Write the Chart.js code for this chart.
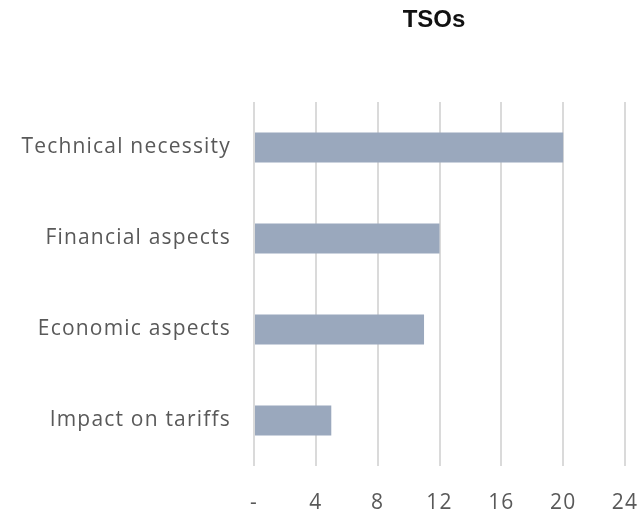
<!DOCTYPE html>
<html>
<head>
<meta charset="utf-8">
<script src="https://cdn.jsdelivr.net/npm/chart.js@4.4.1/dist/chart.umd.min.js"></script>
<style>
  html, body { margin: 0; padding: 0; background: #ffffff; }
  #wrap { width: 643px; height: 512px; position: relative; }
</style>
</head>
<body>
<div id="wrap"><canvas id="chart" width="643" height="512"></canvas></div>
<script>
// Reasons given by TSOs
const chartTitle = 'TSOs';
const categories = ['Technical necessity', 'Financial aspects', 'Economic aspects', 'Impact on tariffs'];
const counts = [20, 12, 11, 5];
const tickValues = [0, 4, 8, 12, 16, 20, 24];
const tickLabels = ['-', '4', '8', '12', '16', '20', '24'];

const labelFont = { family: "'Open Sans', 'DejaVu Sans', sans-serif", size: 21 };
const textColor = '#595959';
const gridColor = '#dadada';

// Slightly wider letter spacing for axis labels (set each draw, since resizing resets the context)
const spacingPlugin = {
  id: 'labelSpacing',
  beforeDraw(chart) { chart.ctx.letterSpacing = '1.2px'; }
};

// Title drawn above the plotting area
const titlePlugin = {
  id: 'plotTitle',
  afterDraw(chart) {
    const { ctx } = chart;
    ctx.save();
    ctx.letterSpacing = '0px';
    ctx.font = "bold 24px 'Liberation Sans', Arial, sans-serif";
    ctx.fillStyle = '#111111';
    ctx.textAlign = 'center';
    ctx.textBaseline = 'middle';
    ctx.fillText(chartTitle, 434, 20);
    ctx.restore();
  }
};

new Chart(document.getElementById('chart'), {
  type: 'bar',
  data: {
    labels: categories,
    datasets: [{
      data: counts,
      backgroundColor: '#9aa8bd',
      borderWidth: 0,
      barPercentage: 0.66,
      categoryPercentage: 0.5
    }]
  },
  options: {
    indexAxis: 'y',
    responsive: false,
    animation: false,
    layout: { padding: { top: 102, right: 18, bottom: 0, left: 0 } },
    plugins: {
      legend: { display: false },
      tooltip: { enabled: false },
      title: { display: false }
    },
    scales: {
      x: {
        min: 0,
        max: 24,
        afterBuildTicks(axis) {
          axis.ticks = tickValues.map(v => ({ value: v }));
        },
        afterFit(axis) {
          axis.height = 46;
          axis.paddingLeft = 0;
          axis.paddingRight = 0;
        },
        grid: { color: gridColor, lineWidth: 2, drawTicks: false },
        border: { display: false },
        ticks: {
          color: textColor,
          font: labelFont,
          padding: 24,
          maxRotation: 0,
          callback: (v) => tickLabels[tickValues.indexOf(v)]
        }
      },
      y: {
        afterFit(axis) { axis.width = 254; },
        grid: { display: false, drawTicks: false },
        border: { display: false },
        ticks: {
          color: textColor,
          font: labelFont,
          padding: 23
        }
      }
    }
  },
  plugins: [spacingPlugin, titlePlugin]
});
</script>
</body>
</html>
